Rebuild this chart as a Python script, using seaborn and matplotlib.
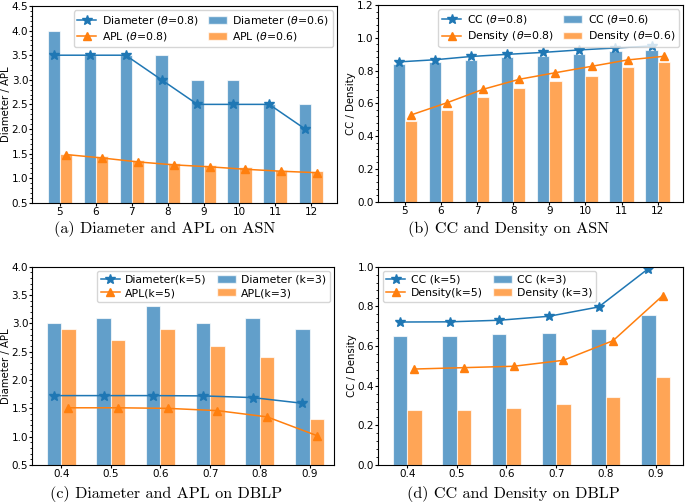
import numpy as np
import pandas as pd
import matplotlib
matplotlib.use("Agg")
import matplotlib.pyplot as plt
import seaborn as sns
from matplotlib.patches import Patch
from matplotlib.lines import Line2D

# ---------------- data ----------------
theta_x = ["5", "6", "7", "8", "9", "10", "11", "12"]
k_x = ["0.4", "0.5", "0.6", "0.7", "0.8", "0.9"]

# (a) ASN diameter / APL
asn_diam_06 = [4.0, 3.5, 3.5, 3.5, 3.0, 3.0, 2.5, 2.5]
asn_apl_06 = [1.50, 1.44, 1.36, 1.30, 1.26, 1.22, 1.17, 1.14]
asn_diam_08 = [3.5, 3.5, 3.5, 3.0, 2.5, 2.5, 2.5, 2.0]
asn_apl_08 = [1.48, 1.41, 1.33, 1.27, 1.23, 1.18, 1.14, 1.11]

# (b) ASN CC / density
asn_cc_06 = [0.838, 0.850, 0.866, 0.883, 0.891, 0.903, 0.918, 0.927]
asn_dens_06 = [0.492, 0.559, 0.639, 0.696, 0.736, 0.769, 0.820, 0.852]
asn_cc_08 = [0.853, 0.866, 0.886, 0.899, 0.911, 0.926, 0.938, 0.950]
asn_dens_08 = [0.529, 0.604, 0.686, 0.747, 0.787, 0.826, 0.865, 0.887]

# (c) DBLP diameter / APL
dblp_diam_3 = [3.0, 3.1, 3.3, 3.0, 3.1, 2.9]
dblp_apl_3 = [2.9, 2.7, 2.9, 2.6, 2.4, 1.32]
dblp_diam_5 = [1.725, 1.725, 1.725, 1.72, 1.69, 1.59]
dblp_apl_5 = [1.51, 1.51, 1.50, 1.46, 1.35, 1.02]

# (d) DBLP CC / density
dblp_cc_3 = [0.649, 0.651, 0.661, 0.667, 0.687, 0.758]
dblp_dens_3 = [0.277, 0.279, 0.287, 0.306, 0.345, 0.444]
dblp_cc_5 = [0.721, 0.722, 0.730, 0.750, 0.797, 0.990]
dblp_dens_5 = [0.484, 0.491, 0.498, 0.528, 0.627, 0.854]

BLUE = "#1f77b4"
ORANGE = "#ff7f0e"

plt.rcParams["font.family"] = ["DejaVu Sans"]
plt.rcParams["mathtext.fontset"] = "dejavusans"

fig = plt.figure(figsize=(6.85, 5.03), dpi=100)
ax_a = fig.add_axes([0.0472, 0.597, 0.4453, 0.391])
ax_b = fig.add_axes([0.5514, 0.599, 0.4461, 0.391])
ax_c = fig.add_axes([0.0472, 0.0755, 0.4409, 0.3943])
ax_d = fig.add_axes([0.5523, 0.0755, 0.4453, 0.3943])


def panel(ax, cats, bar1, bar2, line1, line2, names, width, ylim, yticks,
          xlim, ylabel, legloc):
    df = pd.DataFrame({
        "x": cats * 2,
        "v": list(bar1) + list(bar2),
        "s": [names[2]] * len(cats) + [names[3]] * len(cats),
    })
    sns.barplot(data=df, x="x", y="v", hue="s", ax=ax, width=width, gap=0,
                palette=[BLUE, ORANGE], saturation=1, alpha=0.7,
                edgecolor="white", linewidth=0.8, legend=False, errorbar=None)
    pos = np.arange(len(cats))
    off = width / 4
    ax.plot(pos - off, line1, color=BLUE, marker="*", markersize=7.5, lw=1.1)
    ax.plot(pos + off, line2, color=ORANGE, marker="^", markersize=6, lw=1.1)
    ax.set_xlim(*xlim)
    ax.set_ylim(*ylim)
    ax.set_yticks(yticks)
    ax.set_yticklabels([f"{t:.1f}" for t in yticks])
    ax.set_xticks(pos)
    ax.set_xticklabels(cats)
    ax.yaxis.set_minor_locator(matplotlib.ticker.AutoMinorLocator(5))
    ax.tick_params(axis="both", labelsize=7.5, length=2, pad=1)
    ax.tick_params(axis="y", which="minor", length=1.2, width=0.6)
    ax.set_xlabel("")
    ax.set_ylabel(ylabel, fontsize=7.3, labelpad=0.5)
    handles = [
        Line2D([], [], color=BLUE, marker="*", markersize=7.5, lw=1.1),
        Line2D([], [], color=ORANGE, marker="^", markersize=6, lw=1.1),
        Patch(facecolor=BLUE, alpha=0.7, edgecolor="white"),
        Patch(facecolor=ORANGE, alpha=0.7, edgecolor="white"),
    ]
    ax.legend(handles, names, ncol=2, loc=legloc, fontsize=7.8,
              columnspacing=0.9, handlelength=1.75, handletextpad=0.5,
              borderpad=0.35, labelspacing=0.3, borderaxespad=0.4)


panel(ax_a, theta_x, asn_diam_06, asn_apl_06, asn_diam_08, asn_apl_08,
      [r"Diameter ($\theta$=0.8)", r"APL ($\theta$=0.8)",
       r"Diameter ($\theta$=0.6)", r"APL ($\theta$=0.6)"],
      0.68, (0.5, 4.5), np.arange(0.5, 4.51, 0.5), (-0.77, 7.73),
      "Diameter / APL", "upper right")

panel(ax_b, theta_x, asn_cc_06, asn_dens_06, asn_cc_08, asn_dens_08,
      [r"CC ($\theta$=0.8)", r"Density ($\theta$=0.8)",
       r"CC ($\theta$=0.6)", r"Density ($\theta$=0.6)"],
      0.68, (0.0, 1.2), np.arange(0.0, 1.21, 0.2), (-0.75, 7.71),
      "CC / Density", "upper right")

panel(ax_c, k_x, dblp_diam_3, dblp_apl_3, dblp_diam_5, dblp_apl_5,
      ["Diameter(k=5)", "APL(k=5)", "Diameter (k=3)", "APL(k=3)"],
      0.58, (0.5, 4.0), np.arange(0.5, 4.01, 0.5), (-0.58, 5.50),
      "Diameter / APL", "upper right")

panel(ax_d, k_x, dblp_cc_3, dblp_dens_3, dblp_cc_5, dblp_dens_5,
      ["CC (k=5)", "Density(k=5)", "CC (k=3)", "Density (k=3)"],
      0.58, (0.0, 1.0), np.arange(0.0, 1.01, 0.2), (-0.58, 5.56),
      "CC / Density", "upper left")

cap = dict(fontsize=11.6, family="cmr10", ha="center", va="baseline")
fig.text(165 / 685, 1 - 233 / 503, "(a) Diameter and APL on ASN", **cap)
fig.text(509 / 685, 1 - 233 / 503, "(b) CC and Density on ASN", **cap)
fig.text(166 / 685, 1 - 498 / 503, "(c) Diameter and APL on DBLP", **cap)
fig.text(513 / 685, 1 - 498 / 503, "(d) CC and Density on DBLP", **cap)

fig.savefig("out.png", dpi=100)
